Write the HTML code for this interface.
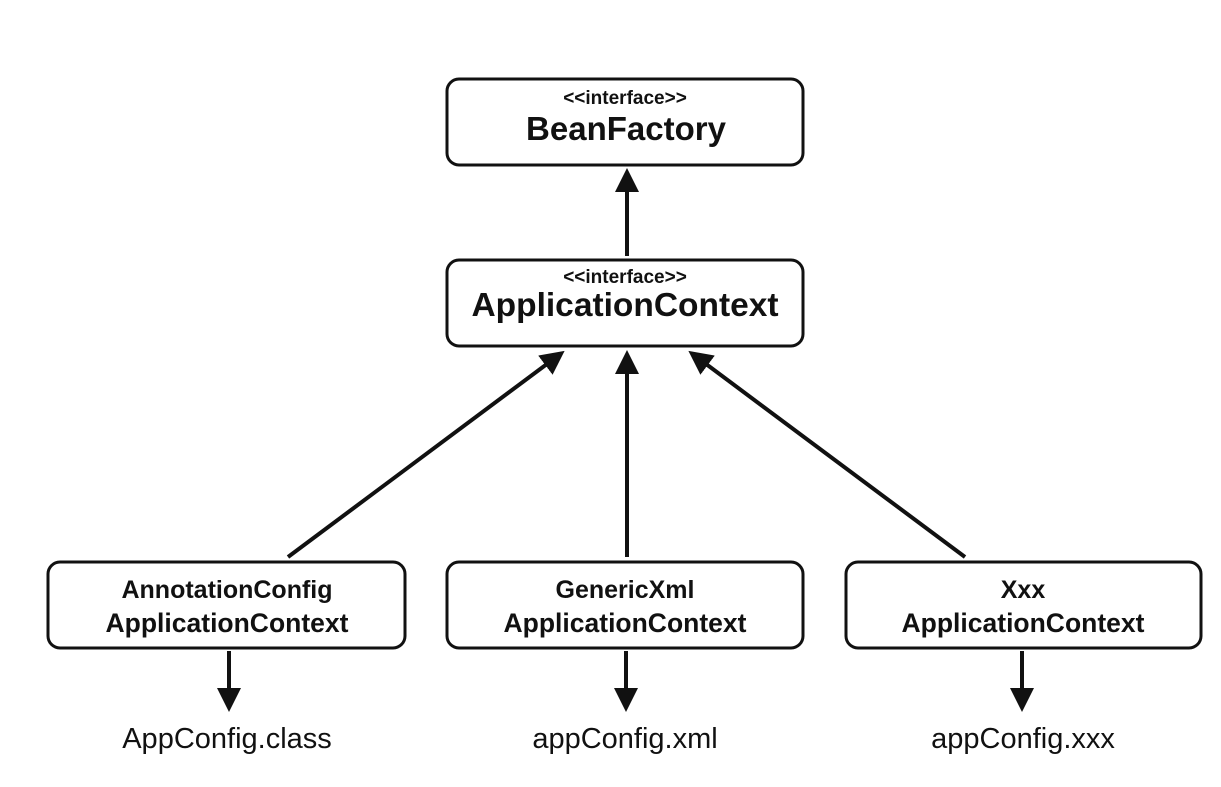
<!DOCTYPE html>
<html><head><style>
body{margin:0;background:#fff;}
svg text{font-family:"Liberation Sans",sans-serif;fill:#111;}
</style></head><body>
<svg width="1221" height="782" viewBox="0 0 1221 782" xmlns="http://www.w3.org/2000/svg">
<defs>
<marker id="a" markerWidth="6" markerHeight="6" refX="3" refY="3" orient="auto" markerUnits="strokeWidth">
<path d="M0,0 L6,3 L0,6 Z" fill="#111"/>
</marker>
</defs>
<g fill="#fff" stroke="#111" stroke-width="3">
<rect x="447" y="79" width="356" height="86" rx="12"/>
<rect x="447" y="260" width="356" height="86" rx="12"/>
<rect x="48" y="562" width="357" height="86" rx="12"/>
<rect x="447" y="562" width="356" height="86" rx="12"/>
<rect x="846" y="562" width="355" height="86" rx="12"/>
</g>
<g stroke="#111" stroke-width="4" marker-end="url(#a)">
<line x1="627" y1="256" x2="627" y2="180"/>
<line x1="627" y1="557" x2="627" y2="362"/>
<line x1="288" y1="557" x2="555" y2="358"/>
<line x1="965" y1="557" x2="698" y2="358"/>
<line x1="229" y1="651" x2="229" y2="700"/>
<line x1="626" y1="651" x2="626" y2="700"/>
<line x1="1022" y1="651" x2="1022" y2="700"/>
</g>
<g text-anchor="middle" font-weight="bold">
<text x="625" y="104" font-size="19">&lt;&lt;interface&gt;&gt;</text>
<text x="626" y="140" font-size="33">BeanFactory</text>
<text x="625" y="283" font-size="19">&lt;&lt;interface&gt;&gt;</text>
<text x="625" y="316" font-size="33.5">ApplicationContext</text>
<text x="227" y="598" font-size="25">AnnotationConfig</text>
<text x="227" y="632" font-size="26.5">ApplicationContext</text>
<text x="625" y="598" font-size="25">GenericXml</text>
<text x="625" y="632" font-size="26.5">ApplicationContext</text>
<text x="1023" y="598" font-size="25">Xxx</text>
<text x="1023" y="632" font-size="26.5">ApplicationContext</text>
</g>
<g text-anchor="middle" font-size="29">
<text x="227" y="748">AppConfig.class</text>
<text x="625" y="748">appConfig.xml</text>
<text x="1023" y="748">appConfig.xxx</text>
</g>
</svg>
</body></html>
